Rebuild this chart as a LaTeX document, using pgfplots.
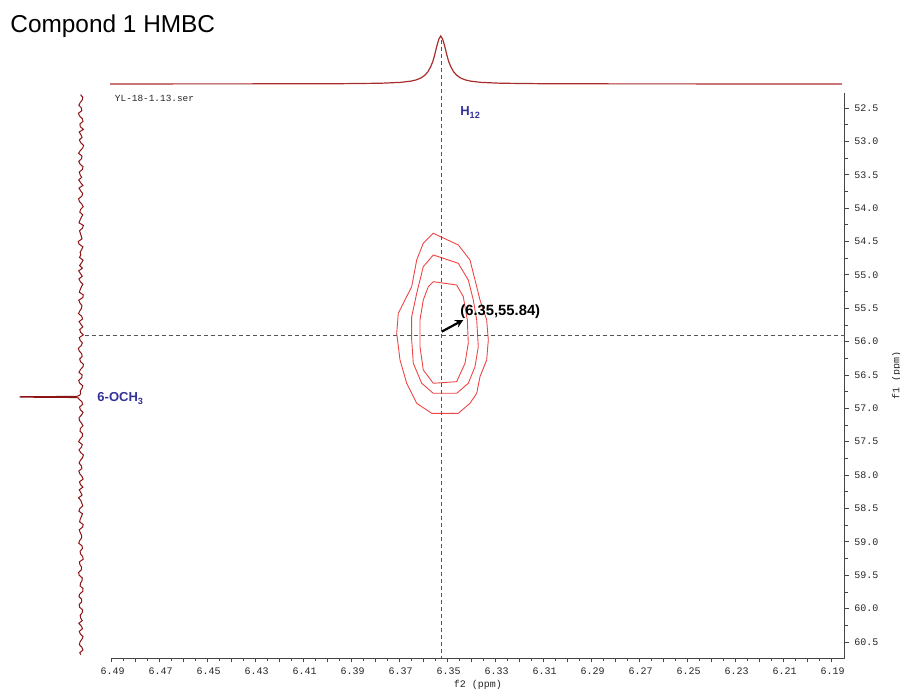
\documentclass[border=0pt]{standalone}
\usepackage{fontspec}
\setmainfont{Liberation Sans}
\newfontfamily\monofont{Liberation Mono}
\usepackage{pgfplots}
\pgfplotsset{compat=1.18}
\usetikzlibrary{arrows.meta}
\definecolor{trace}{RGB}{170,45,45}
\definecolor{traceL}{RGB}{140,20,20}
\definecolor{cont}{RGB}{238,70,70}
\definecolor{lab}{RGB}{51,51,153}
\definecolor{axgray}{RGB}{70,70,70}
\definecolor{dashc}{RGB}{85,85,85}

\pgfplotstableread{
f i
52.30 0.5
52.34 -1.8
52.38 -1.2
52.42 0.9
52.46 2.1
52.50 -0.4
52.54 -0.8
52.58 2.6
52.62 1.5
52.66 -1.3
52.70 -2.0
52.74 1.1
52.78 0.7
52.82 -2.4
52.86 1.8
52.90 0.2
52.94 -1.1
52.98 1.6
53.02 0.3
53.06 -2.6
53.10 -1.7
53.14 0.8
53.18 2.4
53.22 -1.0
53.26 -0.5
53.30 2.2
53.34 1.0
53.38 -2.0
53.42 -1.4
53.46 1.7
53.50 0.9
53.54 -0.6
53.58 2.2
53.62 0.3
53.66 -1.9
53.70 2.0
53.74 0.4
53.78 -1.6
53.82 -0.9
53.86 2.4
53.90 1.6
53.94 -0.8
53.98 -2.2
54.02 0.4
54.06 1.2
54.10 -1.7
54.14 -0.3
54.18 1.0
54.22 2.0
54.26 -2.4
54.30 -1.5
54.34 1.5
54.38 0.6
54.42 -0.3
54.46 -1.0
54.50 2.7
54.54 1.9
54.58 -1.9
54.62 -0.7
54.66 0.9
54.70 0.2
54.74 1.5
54.78 -2.1
54.82 -0.5
54.86 1.4
54.90 -1.4
54.94 2.3
54.98 0.6
55.02 -1.3
55.06 2.1
55.10 0.8
55.14 -1.9
55.18 -0.4
55.22 0.8
55.26 1.7
55.30 -2.3
55.34 -1.8
55.38 2.2
55.42 1.1
55.46 -0.9
55.50 -0.6
55.54 1.2
55.58 2.5
55.62 -0.7
55.66 -1.6
55.70 1.9
55.74 0.1
55.78 -1.8
55.82 1.3
55.86 0.4
55.90 -2.3
55.94 1.7
55.98 0.9
56.02 -1.4
56.06 -0.2
56.10 2.6
56.14 1.8
56.18 -0.6
56.22 -1.2
56.26 1.3
56.30 0.5
56.34 -2.5
56.38 -1.9
56.42 0.6
56.46 2.0
56.50 -1.1
56.54 -0.8
56.58 2.3
56.62 1.5
56.66 -1.7
56.70 -1.0
56.74 0.8
56.78 0.3
56.805 1.5
56.82 4
56.826 61
56.832 61
56.838 5
56.845 2.4
56.86 2.2
56.90 -0.9
56.94 -1.7
56.98 1.4
57.02 0.7
57.06 -2.1
57.10 -0.5
57.14 1.9
57.18 1.6
57.22 -0.4
57.26 -2.0
57.30 0.6
57.34 1.0
57.38 -1.6
57.42 -1.3
57.46 0.9
57.50 2.4
57.54 -1.2
57.58 -0.6
57.62 2.0
57.66 0.4
57.70 -2.4
57.74 -1.5
57.78 0.7
57.82 1.9
57.86 -0.3
57.90 -0.9
57.94 2.2
57.98 1.2
58.02 -1.0
58.06 -2.1
58.10 1.5
58.14 0.6
58.18 -1.9
58.22 1.7
58.26 0.3
58.30 -1.1
58.34 2.5
58.38 0.2
58.42 -0.8
58.46 -1.8
58.50 1.1
58.54 2.1
58.58 -1.5
58.62 -0.4
58.66 0.8
58.70 1.4
58.74 -2.2
58.78 -1.6
58.82 1.8
58.86 0.8
58.90 -0.5
58.94 -0.7
58.98 1.3
59.02 2.3
59.06 -1.1
59.10 -1.4
59.14 0.9
59.18 0.5
59.22 -1.7
59.26 -2.2
59.30 1.6
59.34 1.1
59.38 -0.6
59.42 -0.3
59.46 2.4
59.50 1.8
59.54 -1.3
59.58 -1.0
59.62 0.5
59.66 0.9
59.70 -2.0
59.74 -1.9
59.78 1.2
59.82 2.0
59.86 -0.7
59.90 -0.6
59.94 1.9
59.98 1.3
60.02 -1.6
60.06 -1.2
60.10 0.8
60.14 0.4
60.18 -1.3
60.22 2.2
60.26 -0.2
60.30 -1.5
60.34 1.7
60.38 0.7
60.42 -2.1
60.46 -0.8
60.50 1.0
60.54 1.6
60.58 -0.9
60.62 -2.0
60.66 1.2
60.69 0.3
}\leftspec

\begin{document}
\begin{tikzpicture}
\path[use as bounding box] (0,0) rectangle (450pt,344.5pt);
\node[anchor=base west, inner sep=0pt, font=\fontsize{12.2}{14}\selectfont] at (5pt,328pt) {Compond 1 HMBC};

% main 2D axis
\begin{axis}[
  at={(55.5pt,15.5pt)}, anchor=south west, scale only axis,
  width=367pt, height=282.5pt,
  xmin=6.18417, xmax=6.49, x dir=reverse,
  ymin=52.2753, ymax=60.7397, y dir=reverse,
  axis x line*=bottom, axis y line*=right,
  axis line style={axgray, line width=0.5pt, -},
  clip=false,
  xtick={6.19,6.20,6.21,6.22,6.23,6.24,6.25,6.26,6.27,6.28,6.29,6.30,6.31,6.32,6.33,6.34,6.35,6.36,6.37,6.38,6.39,6.40,6.41,6.42,6.43,6.44,6.45,6.46,6.47,6.48,6.49},
  xticklabels={6.19,{},6.21,{},6.23,{},6.25,{},6.27,{},6.29,{},6.31,{},6.33,{},6.35,{},6.37,{},6.39,{},6.41,{},6.43,{},6.45,{},6.47,{},6.49},
  minor x tick num=1,
  ytick={52.5,53.0,53.5,54.0,54.5,55.0,55.5,56.0,56.5,57.0,57.5,58.0,58.5,59.0,59.5,60.0,60.5},
  yticklabels={52.5,53.0,53.5,54.0,54.5,55.0,55.5,56.0,56.5,57.0,57.5,58.0,58.5,59.0,59.5,60.0,60.5},
  minor y tick num=1,
  tick align=outside,
  major tick length=2.2pt, minor tick length=1.3pt,
  every tick/.style={axgray, line width=0.4pt},
  tick label style={font=\monofont\fontsize{5}{6}\selectfont, text=black!85},
  xticklabel style={yshift=1pt, xshift=0.8pt},
  yticklabel style={xshift=-1pt},
  xlabel={f2 (ppm)}, ylabel={f1 (ppm)},
  label style={font=\monofont\fontsize{5}{6}\selectfont, text=black!85},
  xlabel style={yshift=4pt},
]
% contours
\addplot[cont, line width=0.45pt] coordinates {
(6.35571,54.377) (6.34529,54.552) (6.34042,54.777) (6.33762,55.177) (6.33625,55.376)
(6.33346,55.676) (6.33279,55.976) (6.33346,56.275) (6.33625,56.525) (6.33762,56.774)
(6.34042,56.924) (6.34529,57.074) (6.35637,57.074) (6.36262,56.924) (6.36679,56.624)
(6.36958,56.275) (6.37096,55.875) (6.37029,55.576) (6.36750,55.376) (6.36471,55.177)
(6.36262,54.777) (6.35988,54.527) (6.35571,54.377)};
\addplot[cont, line width=0.45pt] coordinates {
(6.35571,54.702) (6.34529,54.827) (6.34112,55.077) (6.33904,55.376) (6.33762,55.676)
(6.33696,56.076) (6.33833,56.376) (6.34112,56.624) (6.34596,56.774) (6.35571,56.774)
(6.36054,56.624) (6.36404,56.325) (6.36471,55.976) (6.36471,55.627) (6.36262,55.276)
(6.35988,54.877) (6.35571,54.702)};
\addplot[cont, line width=0.45pt] coordinates {
(6.35571,55.102) (6.34596,55.152) (6.34321,55.327) (6.34154,55.676) (6.34112,56.025)
(6.34250,56.325) (6.34596,56.600) (6.35571,56.624) (6.35988,56.425) (6.36125,56.076)
(6.36125,55.676) (6.35988,55.376) (6.35779,55.177) (6.35571,55.102)};
% cross-hair lines
\addplot[dashc, line width=0.5pt, dash pattern=on 2pt off 1.5pt] coordinates {(6.3521,51.48) (6.3521,60.7397)};
\addplot[dashc, line width=0.5pt, dash pattern=on 2pt off 1.5pt] coordinates {(6.50083,55.9157) (6.18417,55.9157)};
% arrow
\addplot[black, line width=1.1pt, -{Stealth[length=4pt,width=4pt]}] coordinates {(6.35221,55.851) (6.34321,55.676)};
\node[anchor=west, inner sep=0pt, font=\bfseries\fontsize{7.4}{8}\selectfont] at (axis cs:6.3446,55.556) {(6.35,55.84)};
\node[anchor=base west, inner sep=0pt, text=lab, font=\bfseries\fontsize{6.5}{7}\selectfont] at (axis cs:6.3446,52.62) {H\textsubscript{12}};
\node[anchor=base west, inner sep=0pt, text=lab, font=\bfseries\fontsize{6.5}{7}\selectfont] at (axis cs:6.4958,56.904) {6-OCH\textsubscript{3}};
\node[anchor=west, inner sep=0pt, font=\monofont\fontsize{4.7}{5}\selectfont, text=black!85] at (axis cs:6.4885,52.35) {YL-18-1.13.ser};
\end{axis}

% top 1D projection
\begin{axis}[
  at={(55.5pt,300.5pt)}, anchor=south west, scale only axis,
  width=367pt, height=30pt,
  xmin=6.18417, xmax=6.49, x dir=reverse,
  ymin=-4, ymax=56, hide axis, clip=false,
]
\addplot[trace, line width=0.6pt] coordinates {
(6.4904,0) (6.46,0.1) (6.42,0.15) (6.3943,0.3) (6.3776,0.74) (6.3693,1.63) (6.3651,2.82)
(6.3630,3.96) (6.3609,5.92) (6.3593,8.65) (6.3580,12.0) (6.3568,17.3) (6.3559,22.5)
(6.3551,29.3) (6.3543,37.4) (6.3534,44.8) (6.3526,48) (6.3518,44.8) (6.3509,37.4)
(6.3501,29.3) (6.3493,22.5) (6.3484,17.3) (6.3472,12.0) (6.3459,8.65) (6.3443,5.92)
(6.3422,3.96) (6.3401,2.82) (6.3359,1.63) (6.3276,0.74) (6.3109,0.3) (6.28,0.12)
(6.24,0.08) (6.1854,0)};
\end{axis}

% left 1D projection
\begin{axis}[
  at={(7.5pt,15.5pt)}, anchor=south west, scale only axis,
  width=36pt, height=282.5pt,
  xmin=-6, xmax=66, x dir=reverse,
  ymin=52.2753, ymax=60.7397, y dir=reverse,
  hide axis, clip=false,
]
\addplot[traceL, line width=0.5pt] table[x=i, y=f] {\leftspec};
\end{axis}
\end{tikzpicture}
\end{document}
